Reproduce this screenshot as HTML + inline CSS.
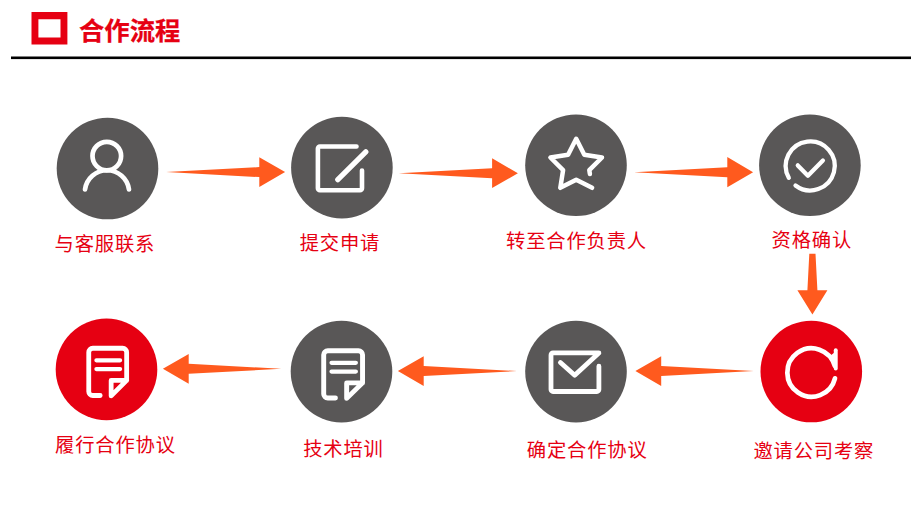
<!DOCTYPE html>
<html lang="zh-CN">
<head>
<meta charset="utf-8">
<title>合作流程</title>
<style>
html,body{margin:0;padding:0;background:#fff;}
body{width:917px;height:507px;position:relative;overflow:hidden;font-family:"Liberation Sans","Noto Sans CJK SC",sans-serif;}
#g{position:absolute;left:0;top:0;width:917px;height:507px;}
.t{position:absolute;white-space:nowrap;color:#e60012;font-size:19.3px;line-height:24px;height:24px;letter-spacing:0.85px;font-weight:400;}
.h{position:absolute;white-space:nowrap;color:#e60012;font-size:25.35px;line-height:30px;font-weight:bold;-webkit-text-stroke:0.25px #e60012;}
</style>
</head>
<body>
<svg id="g" width="917" height="507" viewBox="0 0 917 507">
  <!-- header -->
  <path fill="#e60012" fill-rule="evenodd" d="M31.5 12.1 H67.4 V44.5 H31.5 Z M38.4 19.3 V37.6 H60.5 V19.3 Z"/>
  <rect x="11" y="56.5" width="900" height="2.6" fill="#000"/>
  <!-- circles -->
  <g fill="#595757">
    <circle cx="107.5" cy="168.5" r="50.8"/>
    <circle cx="341.9" cy="167.6" r="50.8"/>
    <circle cx="576" cy="165.2" r="50.8"/>
    <circle cx="809.9" cy="165.2" r="50.8"/>
    <circle cx="341.5" cy="371.6" r="50.8"/>
    <circle cx="576" cy="371.6" r="50.8"/>
  </g>
  <g fill="#e60012">
    <circle cx="106.5" cy="369.4" r="50.8"/>
    <circle cx="811.3" cy="371.55" r="50.8"/>
  </g>
  <!-- arrows -->
  <g fill="#ff5a1e">
        <path d="M166.1 172.1 L259.3 167.1 L259.3 157.2 L285.1 172.1 L259.3 187.0 L259.3 177.1 Z"/>
    <path d="M398.9 173.2 L492.1 168.2 L492.1 158.3 L517.9 173.2 L492.1 188.1 L492.1 178.2 Z"/>
    <path d="M634.1 172.2 L727.3 167.2 L727.3 157.1 L753.1 172.2 L727.3 187.3 L727.3 177.2 Z"/>
    <path d="M815.5 253.8 L817.4 290.2 L827.4 290.2 L812.4 314.6 L797.4 290.2 L807.4 290.2 L809.3 253.8 Z"/>
    <path d="M753.7 371.1 L661.2 376.1 L661.2 386.0 L635.4 371.1 L661.2 356.2 L661.2 366.1 Z"/>
    <path d="M516.9 371.1 L423.7 376.1 L423.7 386.0 L397.9 371.1 L423.7 356.2 L423.7 366.1 Z"/>
    <path d="M281.2 368.8 L188.7 373.8 L188.7 383.7 L162.9 368.8 L188.7 353.9 L188.7 363.8 Z"/>
  </g>
  <!-- icons -->
  <g fill="none" stroke="#fff" stroke-linecap="round" stroke-linejoin="round">
    <!-- user -->
    <circle cx="106.8" cy="156.1" r="14.3" stroke-width="4.7"/>
    <path stroke-width="4.7" d="M85 189.5 A22.2 22.2 0 0 1 129 189.5"/>
    <!-- edit -->
    <path stroke-width="4.6" d="M356.5 146.45 H319.9 A2 2 0 0 0 317.9 148.45 V188.2 A2 2 0 0 0 319.9 190.2 H360 A2 2 0 0 0 362 188.2 V170.6"/>
    <path stroke-width="5.3" d="M337.8 179.6 L365.8 151.8"/>
    <!-- star -->
    <path stroke-width="4.5" d="M592.1 187.8 L576.2 179.7 L560.3 187.8 L563.1 170.2 L550.4 157.5 L568.1 154.7 L576.2 138.8 L584.3 154.7 L602.0 157.5 L589.3 170.2 L589.9 174.0"/>
    <!-- check -->
    <path stroke-width="4.3" d="M788.8 177.8 A24.5 24.5 0 1 1 795.5 185.5"/>
    <path stroke-width="4.3" d="M797.8 165.4 L807.9 175.7 L822.9 160.6"/>
    <!-- mail -->
    <path stroke-width="4.8" d="M598.9 366.2 V389.5 A2 2 0 0 1 596.9 391.5 H553 A2 2 0 0 1 551 389.5 V354.9 A2 2 0 0 1 553 352.9 H598.9 L574.7 375.3 L560.4 362.5"/>
    <!-- refresh -->
    <path stroke-width="4.7" d="M835.0 378.4 A24.2 24.2 0 1 1 834.8 365.9"/>
    <path stroke-width="3.9" d="M835.75 350.2 V368.6"/>
  </g>
  <path fill="#fff" d="M835.75 351.5 L835.75 368 L830.5 355.5 Z"/>
  <g transform="translate(86.5 346) scale(1.0 1.0)" fill="none" stroke="#fff" stroke-linecap="round" stroke-linejoin="round">
      <path stroke-width="4.8" d="M13.7 49.5 H6.25 A4 4 0 0 1 2.25 45.5 V6.25 A4 4 0 0 1 6.25 2.25 H36.15 A4 4 0 0 1 40.15 6.25 V34.4 H24.65 V49.9 L40.15 34.4"/>
      <path stroke-width="4.2" d="M9.9 14.3 H33.6 M9.9 23.1 H33.6"/>
    </g>
  <g transform="translate(321.4 348.5) scale(1.025 1.0)" fill="none" stroke="#fff" stroke-linecap="round" stroke-linejoin="round">
      <path stroke-width="4.8" d="M13.7 49.5 H6.25 A4 4 0 0 1 2.25 45.5 V6.25 A4 4 0 0 1 6.25 2.25 H36.15 A4 4 0 0 1 40.15 6.25 V34.4 H24.65 V49.9 L40.15 34.4"/>
      <path stroke-width="4.2" d="M9.9 14.3 H33.6 M9.9 23.1 H33.6"/>
    </g>
</svg>
<div class="h" style="left:79px;top:16px;">合作流程</div>
<div class="t" style="left:54.6px;top:233px;">与客服联系</div>
<div class="t" style="left:299.7px;top:232px;">提交申请</div>
<div class="t" style="left:506px;top:230px;">转至合作负责人</div>
<div class="t" style="left:771.5px;top:228.5px;">资格确认</div>
<div class="t" style="left:55px;top:434px;">履行合作协议</div>
<div class="t" style="left:303.2px;top:437.6px;">技术培训</div>
<div class="t" style="left:526.8px;top:438.7px;">确定合作协议</div>
<div class="t" style="left:753.4px;top:440.3px;">邀请公司考察</div>
</body>
</html>
